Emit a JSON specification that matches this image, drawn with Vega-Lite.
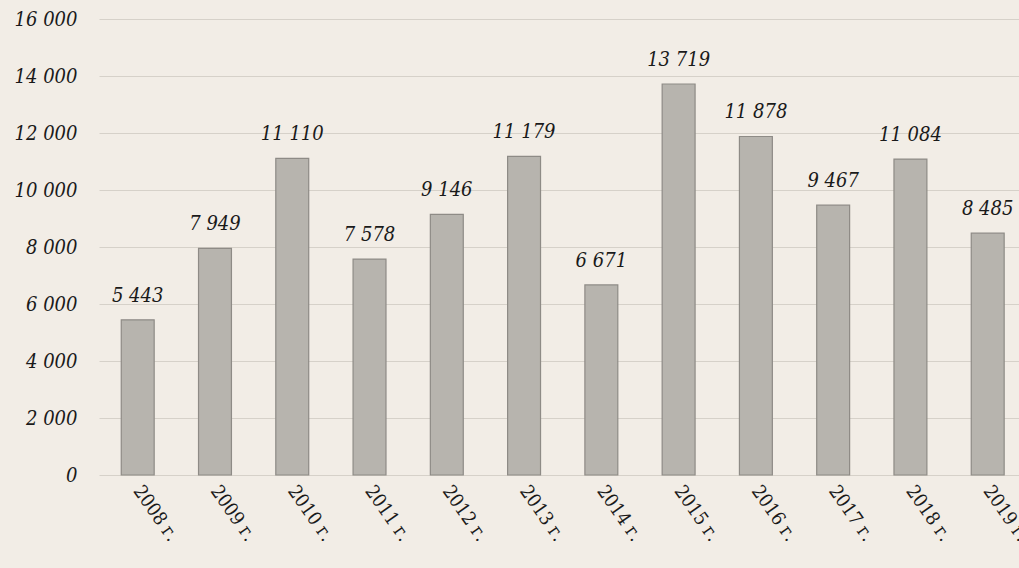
{
  "$schema": "https://vega.github.io/schema/vega-lite/v6.json",
  "autosize": "none",
  "width": 920,
  "height": 456,
  "padding": {"left": 99, "top": 19, "right": 0, "bottom": 93},
  "background": "#f2ede6",
  "data": {"values": [
    {"year": "2008 г.", "v": 5443},
    {"year": "2009 г.", "v": 7949},
    {"year": "2010 г.", "v": 11110},
    {"year": "2011 г.", "v": 7578},
    {"year": "2012 г.", "v": 9146},
    {"year": "2013 г.", "v": 11179},
    {"year": "2014 г.", "v": 6671},
    {"year": "2015 г.", "v": 13719},
    {"year": "2016 г.", "v": 11878},
    {"year": "2017 г.", "v": 9467},
    {"year": "2018 г.", "v": 11084},
    {"year": "2019 г.", "v": 8485}
  ]},
  "transform": [{"calculate": "replace(format(datum.v, ','), ',', ' ')", "as": "lbl"}],
  "encoding": {
    "x": {"field": "year", "type": "nominal", "sort": null,
      "scale": {"paddingInner": 0.574, "paddingOuter": 0.24, "align": 0.6},
      "axis": {"title": null, "domain": false, "ticks": false, "labelAngle": 55, "labelPadding": 12,
        "labelFont": "DejaVu Serif Condensed, DejaVu Serif", "labelFontSize": 19, "labelColor": "#1a1a1a"}},
    "y": {"field": "v", "type": "quantitative",
      "scale": {"domain": [0, 16000], "nice": false},
      "axis": {"title": null, "domain": false, "ticks": false, "values": [0,2000,4000,6000,8000,10000,12000,14000,16000],
        "labelExpr": "replace(format(datum.value, ','), ',', ' ')", "labelPadding": 22,
        "labelFont": "DejaVu Serif Condensed, DejaVu Serif", "labelFontStyle": "italic", "labelFontSize": 20, "labelColor": "#1a1a1a",
        "gridColor": "#d6d1c9", "gridWidth": 1.2}}
  },
  "layer": [
    {"mark": {"type": "bar", "fill": "#b7b4ae", "stroke": "#8e8b86", "strokeWidth": 1.2}},
    {"mark": {"type": "text", "baseline": "alphabetic", "dy": -18, "font": "DejaVu Serif Condensed, DejaVu Serif", "fontStyle": "italic", "fontSize": 20, "fill": "#1a1a1a"},
     "encoding": {"text": {"field": "lbl"}}}
  ],
  "config": {"view": {"stroke": null}}
}
